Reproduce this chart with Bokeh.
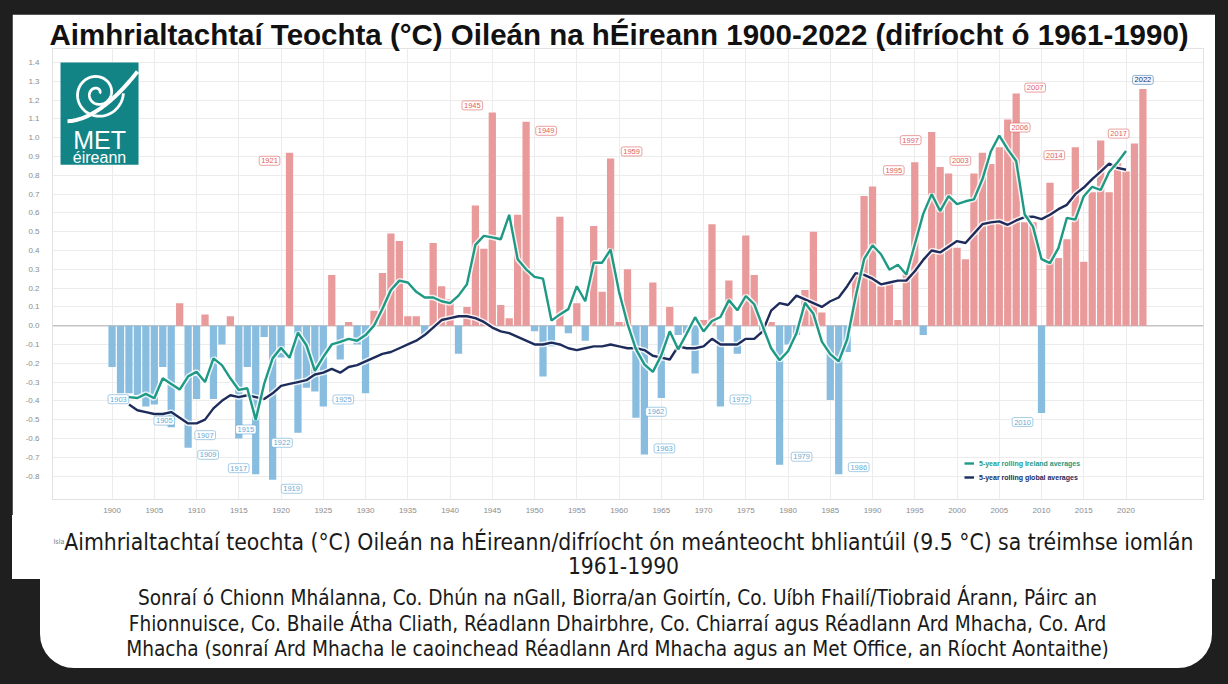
import numpy as np
from bokeh.plotting import figure
from bokeh.models import (ColumnDataSource, Div, Legend, LegendItem, Range1d,
                          FixedTicker, NumeralTickFormatter, Span)
from bokeh.layouts import column
from bokeh.embed import file_html
from bokeh.resources import INLINE
from bokeh.core.properties import value

# ---------------- data ----------------
years = list(range(1900, 2023))
anomaly = [
    -0.22, -0.36, -0.36, -0.37, -0.43, -0.42, -0.22, -0.54, 0.12, -0.65,   # 1900-1909
    -0.39, 0.06, -0.39, -0.10, 0.05, -0.60, -0.22, -0.79, -0.06, -0.82,    # 1910-1919
    -0.17, 0.92, -0.57, -0.33, -0.35, -0.43, 0.27, -0.18, 0.02, -0.10,     # 1920-1929
    -0.36, 0.08, 0.28, 0.49, 0.45, 0.05, 0.05, -0.05, 0.44, 0.21,          # 1930-1939
    0.14, -0.15, 0.10, 0.64, 0.41, 1.135, 0.11, 0.04, 0.59, 1.085,         # 1940-1949
    -0.03, -0.27, -0.11, 0.58, -0.04, 0.12, -0.08, 0.53, 0.18, 0.89,       # 1950-1959
    0.02, 0.30, -0.49, -0.685, 0.23, -0.385, 0.10, -0.05, -0.04, -0.255,   # 1960-1969
    0.03, 0.54, -0.43, 0.24, -0.15, 0.48, 0.27, -0.05, 0.02, -0.74,        # 1970-1979
    -0.10, -0.05, 0.19, 0.50, 0.07, -0.395, -0.79, -0.14, 0.27, 0.69,      # 1980-1989
    0.74, 0.21, 0.23, 0.03, 0.28, 0.87, -0.05, 1.03, 0.845, 0.81,          # 1990-1999
    0.415, 0.354, 0.81, 0.92, 0.86, 0.95, 1.097, 1.235, 0.55, 0.55,        # 2000-2009
    -0.465, 0.76, 0.36, 0.46, 0.95, 0.34, 0.71, 0.985, 0.71, 0.865,        # 2010-2019
    0.82, 0.97, 1.26,                                                      # 2020-2022
]
roll_years = list(range(1902, 2021))
ireland_5yr = [
    -0.38, -0.385, -0.363, -0.386, -0.28, -0.31, -0.34, -0.27,             # 1902-1909
    -0.245, -0.30, -0.174, -0.21, -0.28, -0.342, -0.333, -0.50, -0.31, -0.174,  # 1910-1919
    -0.118, -0.171, -0.037, -0.104, -0.241, -0.166, -0.10, -0.086, -0.07, -0.08,  # 1920-1929
    -0.05, 0.0, 0.09, 0.19, 0.24, 0.23, 0.18, 0.15, 0.15, 0.13,            # 1930-1939
    0.12, 0.16, 0.22, 0.43, 0.478, 0.47, 0.46, 0.59, 0.354, 0.30,          # 1940-1949
    0.26, 0.25, 0.027, 0.06, 0.088, 0.21, 0.13, 0.335, 0.335, 0.405,       # 1950-1959
    0.18, 0.01, -0.125, -0.206, -0.246, -0.158, -0.03, -0.126, -0.043, 0.045,  # 1960-1969
    -0.031, 0.025, 0.046, 0.136, 0.082, 0.158, 0.114, -0.004, -0.12, -0.184,   # 1970-1979
    -0.136, -0.04, 0.122, 0.063, -0.085, -0.151, -0.19, -0.073, 0.154, 0.354,  # 1980-1989
    0.428, 0.38, 0.298, 0.324, 0.272, 0.432, 0.595, 0.70, 0.61, 0.69,      # 1990-1999
    0.647, 0.662, 0.672, 0.779, 0.927, 1.012, 0.938, 0.876, 0.593, 0.526,  # 2000-2009
    0.354, 0.333, 0.413, 0.574, 0.564, 0.689, 0.739, 0.722, 0.818, 0.87,   # 2010-2019
    0.93,                                                                  # 2020
]
global_5yr = [
    -0.42, -0.45, -0.46, -0.47, -0.47, -0.46, -0.49, -0.52,                # 1902-1909
    -0.52, -0.50, -0.44, -0.40, -0.37, -0.38, -0.37, -0.38, -0.39, -0.36,  # 1910-1919
    -0.32, -0.31, -0.30, -0.29, -0.26, -0.25, -0.23, -0.25, -0.22, -0.21,  # 1920-1929
    -0.19, -0.17, -0.15, -0.14, -0.12, -0.10, -0.08, -0.05, -0.01, 0.03,   # 1930-1939
    0.04, 0.05, 0.05, 0.04, 0.02, -0.01, -0.03, -0.04, -0.06, -0.08,       # 1940-1949
    -0.10, -0.10, -0.09, -0.10, -0.12, -0.13, -0.12, -0.11, -0.11, -0.10,  # 1950-1959
    -0.11, -0.12, -0.12, -0.13, -0.16, -0.17, -0.18, -0.11, -0.12, -0.12,  # 1960-1969
    -0.11, -0.07, -0.10, -0.10, -0.10, -0.07, -0.07, -0.03, 0.08, 0.12,    # 1970-1979
    0.11, 0.16, 0.14, 0.12, 0.10, 0.13, 0.15, 0.21, 0.28, 0.27,            # 1980-1989
    0.25, 0.22, 0.23, 0.24, 0.24, 0.29, 0.35, 0.40, 0.39, 0.42,            # 1990-1999
    0.45, 0.44, 0.49, 0.54, 0.55, 0.555, 0.537, 0.56, 0.578, 0.58,         # 2000-2009
    0.567, 0.59, 0.62, 0.643, 0.70, 0.735, 0.78, 0.82, 0.862, 0.84,        # 2010-2019
    0.83,                                                                  # 2020
]
x_ticks = [1900, 1905, 1910, 1915, 1920, 1925, 1930, 1935, 1940, 1945, 1950, 1955,
           1960, 1965, 1970, 1975, 1980, 1985, 1990, 1995, 2000, 2005, 2010, 2015, 2020]
y_ticks = [-0.8, -0.7, -0.6, -0.5, -0.4, -0.3, -0.2, -0.1, 0.0, 0.1, 0.2, 0.3, 0.4,
           0.5, 0.6, 0.7, 0.8, 0.9, 1.0, 1.1, 1.2, 1.3, 1.4]

warm_label_years = [1921, 1945, 1949, 1959, 1995, 1997, 2003, 2006, 2007, 2014, 2017]
cold_label_years = [1903, 1905, 1907, 1909, 1915, 1917, 1919, 1922, 1925,
                    1962, 1963, 1972, 1979, 1986, 2010]
record_year = 2022

title_text = "Aimhrialtachtaí Teochta (°C) Oileán na hÉireann 1900-2022 (difríocht ó 1961-1990)"
legend_ireland = "5-year rolling Ireland averages"
legend_global = "5-year rolling global averages"

# ---------------- styles ----------------
PINK = "#e99a9b"
BLUE = "#88bde0"
GREEN = "#1e9984"
NAVY = "#1e2c5c"
WARM_TXT = "#e06060"
COLD_TXT = "#6aaad4"
DARK = "#1f1f1f"

# label placement offsets in screen px (label centre relative to bar end)
warm_label_offsets = [(-20, 8), (-20, -7), (20, 9), (21, -7), (-21, 8), (-21, 8),
                      (-22, 8), (12, 8), (19, -6), (-21, 8), (18, -7)]
cold_label_offsets = [(-19, 4), (10, 16), (34, 8), (20, 7), (7, -9), (-17, -6), (19, 9),
                      (-16, 10), (20, -7), (20, -6), (20, -6), (20, -7), (22, -8),
                      (20, -7), (-19, 9)]

p = figure(width=1203, height=501, output_backend="svg", toolbar_location=None,
           x_range=Range1d(1892.95, 2029.17), y_range=Range1d(-0.925, 1.475),
           min_border_left=40, min_border_right=12, min_border_top=34, min_border_bottom=13,
           background_fill_color="white", border_fill_color="white")
p.margin = (14, 13, 0, 12)
p.outline_line_color = "#e2e2e2"

p.title.text = title_text
p.title.text_font = "Liberation Sans"
p.title.text_font_style = "bold"
p.title.text_font_size = "29.5px"
p.title.text_line_height = 1.0
p.title.text_color = "#111111"
p.title.align = "left"
p.title.offset = -3
p.title.standoff = -4

for ax in (p.xaxis, p.yaxis):
    ax.axis_line_color = None
    ax.major_tick_line_color = None
    ax.minor_tick_line_color = None
    ax.major_label_text_font = "Liberation Sans"
    ax.major_label_text_font_size = "8px"
    ax.major_label_text_color = "#8c8c8c"
p.xaxis.ticker = FixedTicker(ticks=x_ticks)
p.xaxis.major_label_standoff = 2
p.yaxis.ticker = FixedTicker(ticks=y_ticks)
p.yaxis.formatter = NumeralTickFormatter(format="0.0")
p.yaxis.major_label_standoff = 7

p.xgrid.ticker = FixedTicker(ticks=x_ticks)
p.ygrid.ticker = FixedTicker(ticks=y_ticks)
p.xgrid.grid_line_color = "#ececec"
p.ygrid.grid_line_color = "#ececec"

zero = Span(location=0, dimension="width", line_color="#c4c4c4", line_width=1.5, level="underlay")
p.add_layout(zero)

bar_colors = [PINK if v >= 0 else BLUE for v in anomaly]
bars = ColumnDataSource(dict(x=years, top=anomaly, color=bar_colors))
p.vbar(x="x", top="top", bottom=0, width=0.86, fill_color="color", line_color=None, source=bars)

# halos + rolling lines
p.line(roll_years, global_5yr, line_color="white", line_width=5.5, line_alpha=0.8)
r_glob = p.line(roll_years, global_5yr, line_color=NAVY, line_width=2.4)
p.line(roll_years, ireland_5yr, line_color="white", line_width=5.5, line_alpha=0.8)
r_irl = p.line(roll_years, ireland_5yr, line_color=GREEN, line_width=2.4)

# year labels
val = dict(zip(years, anomaly))

def label_source(yrs, offs):
    return ColumnDataSource(dict(
        x=yrs, y=[val[y_] for y_ in yrs], text=[str(y_) for y_ in yrs],
        dx=[o[0] for o in offs], dy=[o[1] for o in offs]))

warm_src = label_source(warm_label_years, warm_label_offsets)
cold_src = label_source(cold_label_years, cold_label_offsets)
for src, c in ((warm_src, WARM_TXT), (cold_src, COLD_TXT)):
    p.text(x="x", y="y", text="text", anchor="center", x_offset="dx", y_offset="dy", source=src,
           text_font=value("Liberation Sans"), text_font_size="7.5px", text_color=c,
           background_fill_color="white", border_line_color=c, border_line_alpha=0.6,
           border_line_width=1, padding=2, border_radius=2)
rec_src = ColumnDataSource(dict(x=[record_year], y=[val[record_year]], text=[str(record_year)]))
p.text(x="x", y="y", text="text", anchor="center", y_offset=-9, source=rec_src,
       text_font=value("Liberation Sans"), text_font_size="7.5px", text_color=NAVY,
       background_fill_color="#f3f7fb", border_line_color="#8fb0cf",
       border_line_width=1, padding=2, border_radius=2)

# legends (two, to colour their labels)
for item_r, lbl, col, ypos in ((r_irl, legend_ireland, GREEN, 32), (r_glob, legend_global, NAVY, 18)):
    lg = Legend(items=[LegendItem(label=lbl, renderers=[item_r])], location=(912, ypos),
                background_fill_alpha=0, border_line_color=None, padding=0, margin=0,
                glyph_width=10, glyph_height=8, label_height=8, label_standoff=5,
                label_text_font="Liberation Sans", label_text_font_size="7px",
                label_text_color=col, label_text_font_style="bold")
    p.add_layout(lg)

# Met Eireann logo (decoration)
PXX = 8.449     # px per year
PXY = 189.3     # px per unit anomaly
lx0, ly0 = 1893.9, 1.40
p.quad(left=lx0, right=lx0 + 78 / PXX, top=ly0, bottom=ly0 - 103 / PXY,
       fill_color="#138486", line_color=None)
cx, cy = lx0 + 37 / PXX, ly0 - 31 / PXY
t = np.linspace(0.0, 4.0 * np.pi, 220)
r = 2.0 + 1.9 * t
p.line(cx + r * np.cos(t) / PXX, cy + r * np.sin(t) / PXY, line_color="white", line_width=2.8)
tt = np.linspace(0, 1, 40)
tail_x = cx + (-30 + 70 * tt) / PXX
tail_y = cy - (28 - 50 * tt ** 1.8) / PXY
p.line(tail_x, tail_y, line_color="white", line_width=4)
p.text(x=[lx0 + 39 / PXX], y=[ly0 - 78 / PXY], text=["MET"], anchor="center",
       text_font=value("Liberation Sans"), text_font_size="25px", text_color="white")
p.text(x=[lx0 + 39 / PXX], y=[ly0 - 96 / PXY], text=["éireann"], anchor="center",
       text_font=value("Liberation Sans"), text_font_size="16px", text_color="white")

cap_font = "'DejaVu Sans Condensed','Liberation Sans',sans-serif"
cap1 = Div(
    text=("<div style=\"font-family:%s;font-size:22.7px;line-height:24px;text-align:center;"
          "color:#1a1a1a;padding-top:15px;padding-left:20px;width:1203px;box-sizing:border-box;"
          "white-space:nowrap;\">"
          "<span style=\"font-size:7px;vertical-align:top;color:#777777;\">Isla</span>"
          "Aimhrialtachtaí teochta (°C) Oileán na hÉireann/difríocht ón meánteocht bhliantúil (9.5 °C) sa tréimhse iomlán"
          "<br>1961-1990</div>") % cap_font,
    width=1203, height=64, styles={"background-color": "white"})
cap1.margin = (0, 13, 0, 12)
cap2 = Div(
    text=("<div style=\"font-family:%s;font-size:20.6px;line-height:25.5px;text-align:center;"
          "color:#1a1a1a;padding-top:7px;padding-right:17px;width:1172px;box-sizing:border-box;"
          "white-space:nowrap;\">"
          "Sonraí ó Chionn Mhálanna, Co. Dhún na nGall, Biorra/an Goirtín, Co. Uíbh Fhailí/Tiobraid Árann, Páirc an<br>"
          "Fhionnuisce, Co. Bhaile Átha Cliath, Réadlann Dhairbhre, Co. Chiarraí agus Réadlann Ard Mhacha, Co. Ard<br>"
          "Mhacha (sonraí Ard Mhacha le caoinchead Réadlann Ard Mhacha agus an Met Office, an Ríocht Aontaithe)"
          "</div>") % cap_font,
    width=1172, height=89,
    styles={"background-color": "white", "border-radius": "0px 0px 34px 34px"})
cap2.margin = (0, 16, 16, 40)

root = column(p, cap1, cap2, spacing=0, styles={"background-color": DARK})
open("out.html", "w").write(file_html(root, INLINE))
